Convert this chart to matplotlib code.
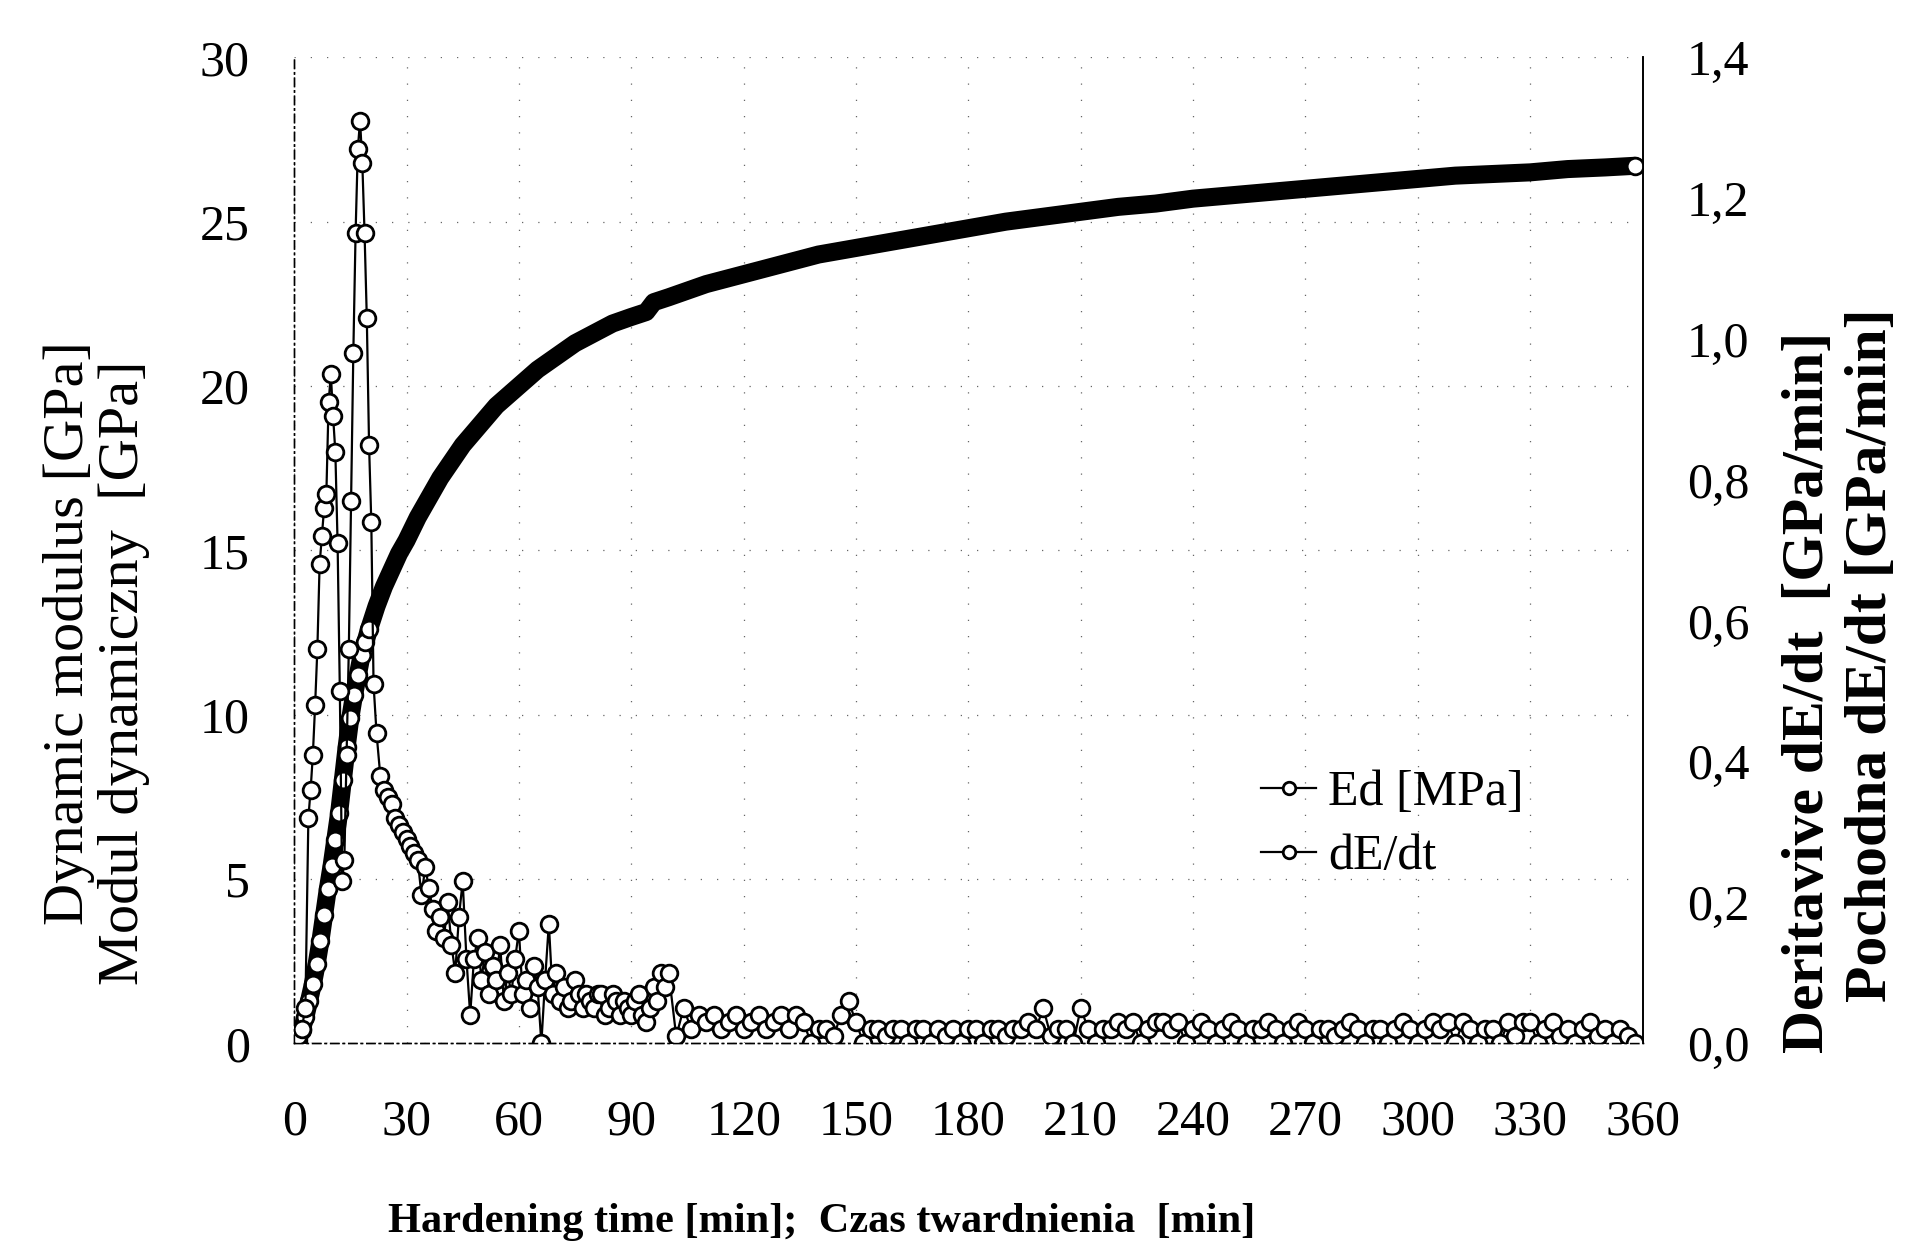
import matplotlib.pyplot as plt
from matplotlib.lines import Line2D

plt.rcParams['font.family'] = ['Liberation Serif', 'DejaVu Serif']

# Modul dynamiczny Ed [GPa] w funkcji czasu [min]
ed_time = [1, 2, 3, 4, 5, 6, 7, 8, 9, 10, 11, 12, 13, 14, 15, 16, 17, 18, 19, 20,
           22, 24, 26, 28, 30, 33, 36, 39, 42, 45, 48, 51, 54, 57, 60, 65, 70, 75,
           80, 85, 90, 94, 96, 100, 110, 120, 130, 140, 150, 160, 170, 180, 190, 200,
           210, 220, 230, 240, 250, 260, 270, 280, 290, 300, 310, 320, 330, 340,
           350, 358]
ed_value = [0.1, 0.4, 0.8, 1.3, 1.8, 2.4, 3.1, 3.9, 4.7, 5.4, 6.2, 7.0, 8.0, 9.0,
            9.9, 10.6, 11.2, 11.8, 12.2, 12.6, 13.3, 13.9, 14.4, 14.9, 15.3, 16.0,
            16.6, 17.2, 17.7, 18.2, 18.6, 19.0, 19.4, 19.7, 20.0, 20.5, 20.9, 21.3,
            21.6, 21.9, 22.1, 22.25, 22.55, 22.7, 23.1, 23.4, 23.7, 24.0, 24.2, 24.4,
            24.6, 24.8, 25.0, 25.15, 25.3, 25.45, 25.55, 25.7, 25.8, 25.9, 26.0,
            26.1, 26.2, 26.3, 26.4, 26.45, 26.5, 26.6, 26.65, 26.7]

# Pochodna dE/dt [GPa/min]
de_time = [1.0, 2.0, 3.0, 3.8, 4.4, 5.0, 5.6, 6.2, 6.8, 7.4, 8.0, 8.6, 9.2, 9.8,
           10.4, 11.0, 11.6, 12.2, 12.8, 13.4, 14.0, 14.6, 15.2, 15.8, 16.4, 17.0,
           17.6, 18.2, 18.8, 19.4, 20.0, 20.6, 21.2, 22, 23, 24, 25, 26, 27, 28,
           29, 30, 31, 32, 33, 34, 35, 36, 37, 38, 39, 40, 41, 42, 43, 44, 45, 46,
           47, 48, 49, 50, 51, 52, 53, 54, 55, 56, 57, 58, 59, 60, 61, 62, 63, 64,
           65, 66, 67, 68, 69, 70, 71, 72, 73, 74, 75, 76, 77, 78, 79, 80, 81, 82,
           83, 84, 85, 86, 87, 88, 89, 90, 91, 92, 93, 94, 95, 96, 97, 98, 99,
           100, 102, 104, 106, 108, 110, 112, 114, 116, 118,
           120, 122, 124, 126, 128, 130, 132, 134, 136, 138,
           140, 142, 144, 146, 148, 150, 152, 154, 156, 158,
           160, 162, 164, 166, 168, 170, 172, 174, 176, 178,
           180, 182, 184, 186, 188, 190, 192, 194, 196, 198,
           200, 202, 204, 206, 208, 210, 212, 214, 216, 218,
           220, 222, 224, 226, 228, 230, 232, 234, 236, 238,
           240, 242, 244, 246, 248, 250, 252, 254, 256, 258,
           260, 262, 264, 266, 268, 270, 272, 274, 276, 278,
           280, 282, 284, 286, 288, 290, 292, 294, 296, 298,
           300, 302, 304, 306, 308, 310, 312, 314, 316, 318,
           320, 322, 324, 326, 328, 330, 332, 334, 336, 338,
           340, 342, 344, 346, 348, 350, 352, 354, 356, 358]
de_value = [0.01, 0.02, 0.05, 0.32, 0.36, 0.41, 0.48, 0.56, 0.68, 0.72, 0.76, 0.78,
            0.91, 0.95, 0.89, 0.84, 0.71, 0.50, 0.23, 0.26, 0.41, 0.56, 0.77, 0.98,
            1.15, 1.27, 1.31, 1.25, 1.15, 1.03, 0.85, 0.74, 0.51, 0.44, 0.38, 0.36,
            0.35, 0.34, 0.32, 0.31, 0.30, 0.29, 0.28, 0.27, 0.26, 0.21, 0.25, 0.22,
            0.19, 0.16, 0.18, 0.15, 0.20, 0.14, 0.10, 0.18, 0.23, 0.12, 0.04, 0.12,
            0.15, 0.09, 0.13, 0.07, 0.11, 0.09, 0.14, 0.06, 0.10, 0.07, 0.12, 0.16,
            0.07, 0.09, 0.05, 0.11, 0.08, 0.00, 0.09, 0.17, 0.07,
            0.10, 0.06, 0.08, 0.05, 0.06, 0.09, 0.07, 0.05, 0.07, 0.06,
            0.05, 0.07, 0.07, 0.04, 0.05, 0.07, 0.06, 0.04, 0.06, 0.05,
            0.04, 0.06, 0.07, 0.04, 0.03, 0.05, 0.08, 0.06, 0.10, 0.08,
            0.10, 0.01, 0.05, 0.02, 0.04, 0.03, 0.04, 0.02, 0.03, 0.04,
            0.02, 0.03, 0.04, 0.02, 0.03, 0.04, 0.02, 0.04, 0.03, 0.00,
            0.02, 0.02, 0.01, 0.04, 0.06, 0.03, 0.00, 0.02, 0.02, 0.01,
            0.02, 0.02, 0.00, 0.02, 0.02, 0.00, 0.02, 0.01, 0.02, 0.00,
            0.02, 0.02, 0.00, 0.02, 0.02, 0.01, 0.02, 0.02, 0.03, 0.02,
            0.05, 0.01, 0.02, 0.02, 0.00, 0.05, 0.02, 0.00, 0.02, 0.02,
            0.03, 0.02, 0.03, 0.00, 0.02, 0.03, 0.03, 0.02, 0.03, 0.00,
            0.02, 0.03, 0.02, 0.00, 0.02, 0.03, 0.02, 0.00, 0.02, 0.02,
            0.03, 0.02, 0.00, 0.02, 0.03, 0.02, 0.00, 0.02, 0.02, 0.01,
            0.02, 0.03, 0.02, 0.00, 0.02, 0.02, 0.00, 0.02, 0.03, 0.02,
            0.00, 0.02, 0.03, 0.02, 0.03, 0.00, 0.03, 0.02, 0.00, 0.02,
            0.02, 0.00, 0.03, 0.01, 0.03, 0.03, 0.00, 0.02, 0.03, 0.01,
            0.02, 0.00, 0.02, 0.03, 0.01, 0.02, 0.00, 0.02, 0.01, 0.00]

x_ticks = [0, 30, 60, 90, 120, 150, 180, 210, 240, 270, 300, 330, 360]
left_ticks = [0, 5, 10, 15, 20, 25, 30]
right_ticks = [0.0, 0.2, 0.4, 0.6, 0.8, 1.0, 1.2, 1.4]

fig = plt.figure(figsize=(19.1, 12.6), dpi=100)
ax = fig.add_axes([0.154, 0.172, 0.706, 0.7825])
ax2 = ax.twinx()

# Ed: gruba linia + puste kolka na poczatku i na koncu
marks = [i for i, t in enumerate(ed_time) if t <= 20] + [len(ed_time) - 1]
ax.plot(ed_time, ed_value, '-', color='black', lw=13, solid_capstyle='round')
ax.plot(ed_time, ed_value, 'o', color='black', mfc='white', ms=12, mew=2,
        markevery=marks, zorder=3)

ax2.plot(de_time, de_value, '-o', color='black', lw=1.6, mfc='white', ms=12, mew=2)

ax.set_xlim(0, 360)
ax.set_ylim(0, 30)
ax2.set_ylim(0, 1.4)

ax.set_xticks(x_ticks)
ax.set_xticklabels([str(v) for v in x_ticks])
ax.set_yticks(left_ticks)
ax.set_yticklabels([str(v) for v in left_ticks])
ax2.set_yticks(right_ticks)
ax2.set_yticklabels([f"{v:.1f}".replace('.', ',') for v in right_ticks])

ax.tick_params(axis='x', length=0, pad=40, labelsize=36)
ax.tick_params(axis='y', length=0, pad=32, labelsize=36)
ax2.tick_params(axis='y', length=0, pad=32, labelsize=36)

ax.grid(True, linestyle=(0, (1, 12)), color='0.4', lw=0.9)

for a in (ax, ax2):
    a.spines['top'].set_visible(False)
    a.spines['left'].set_linestyle((0, (6, 3, 1, 3)))
    a.spines['bottom'].set_linestyle((0, (6, 3, 1, 3)))
    a.spines['left'].set_linewidth(1)
    a.spines['bottom'].set_linewidth(1)
    a.spines['right'].set_linewidth(1.2)

# Etykiety osi
fig.text(69 / 1910, 1 - 633 / 1260, 'Dynamic modulus [GPa]', rotation=90,
         ha='center', va='center', fontsize=42)
fig.text(124 / 1910, 1 - 673 / 1260, 'Modul dynamiczny  [GPa]', rotation=90,
         ha='center', va='center', fontsize=42)
fig.text(1809 / 1910, 1 - 692 / 1260, 'Deritavive dE/dt  [GPa/min]', rotation=90,
         ha='center', va='center', fontsize=43, fontweight='bold')
fig.text(1872 / 1910, 1 - 655 / 1260, 'Pochodna dE/dt [GPa/min]', rotation=90,
         ha='center', va='center', fontsize=43, fontweight='bold')
fig.text(822 / 1910, 1 - 1222 / 1260, 'Hardening time [min];  Czas twardnienia  [min]',
         ha='center', va='center', fontsize=30.5, fontweight='bold')

handles = [Line2D([], [], color='black', lw=1.6, marker='o', mfc='white', ms=9, mew=2),
           Line2D([], [], color='black', lw=1.6, marker='o', mfc='white', ms=9, mew=2)]
ax2.legend(handles, ['Ed [MPa]', 'dE/dt'], loc='center left',
           bbox_to_anchor=(1261 / 1910, 1 - 825 / 1260), bbox_transform=fig.transFigure,
           frameon=False, fontsize=36, handlelength=1.1, handletextpad=0.25,
           labelspacing=0.35, borderpad=0, borderaxespad=0)

plt.savefig('out.png', dpi=100)
